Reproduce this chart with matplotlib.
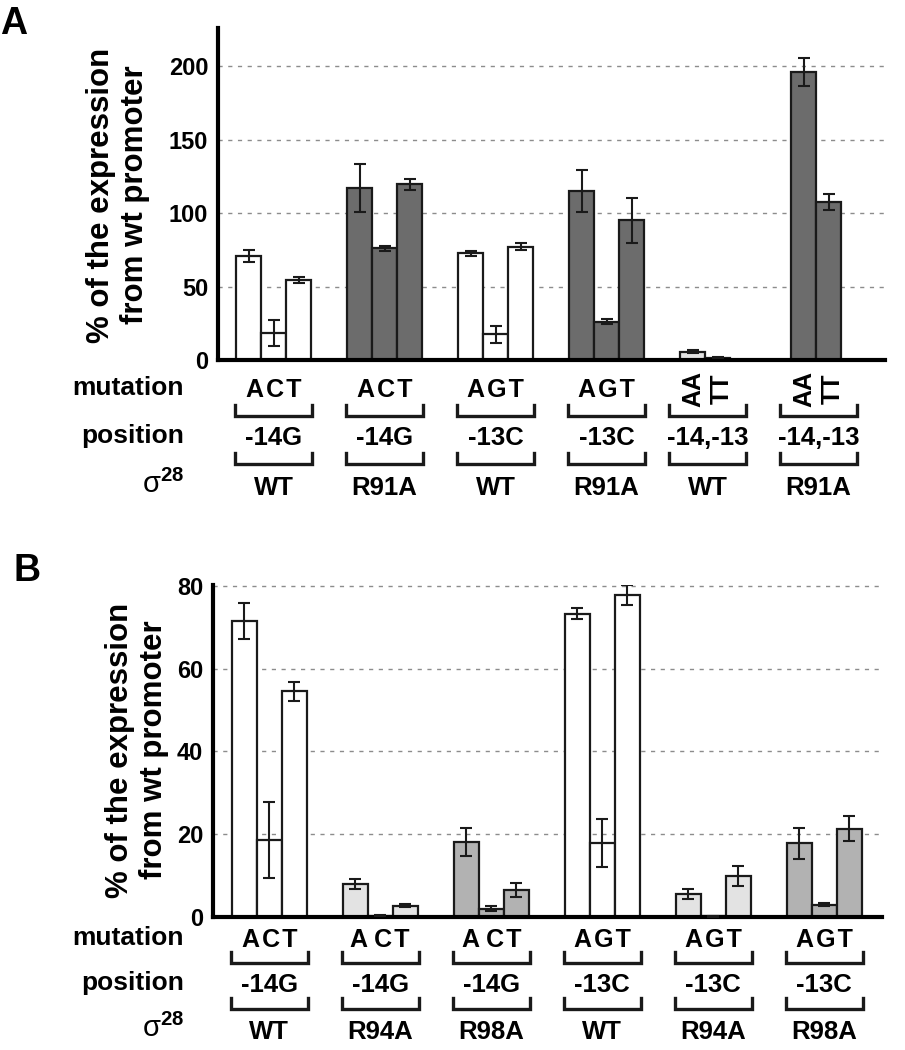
import matplotlib
matplotlib.use('Agg')
import matplotlib.pyplot as plt
import matplotlib.transforms as mtransforms
from matplotlib.lines import Line2D

plt.rcParams['font.family'] = ['Liberation Sans', 'DejaVu Sans']
plt.rcParams['mathtext.fontset'] = 'custom'
plt.rcParams['mathtext.rm'] = 'Liberation Sans'
plt.rcParams['mathtext.bf'] = 'Liberation Sans:bold'

HS = '\u200a'  # hair space, the letters are tracked a bit in the figure

# ---------- data: panel A ----------
a_mutation = [f'A{HS}C{HS}T', f'A{HS}C{HS}T', f'A{HS}G{HS}T', f'A{HS}G{HS}T', 'AA\nTT', 'AA\nTT']
a_position = ['-14G', '-14G', '-13C', '-13C', '-14,-13', '-14,-13']
a_sigma = ['WT', 'R91A', 'WT', 'R91A', 'WT', 'R91A']
a_values = [[71, 18.5, 54.5], [117, 76, 119.5], [72.5, 17.5, 77],
            [115, 26, 95], [5.7, 1.5], [196, 107.5]]
a_errors = [[4.2, 9, 2.3], [16.5, 1.8, 3.5], [1.6, 5.8, 2.4],
            [14, 1.8, 15.5], [1.2, 0.4], [9.8, 5.4]]
a_fill = ['white', 'dark', 'white', 'dark', 'light', 'dark']
a_yticks = [0, 50, 100, 150, 200]

# ---------- data: panel B ----------
b_mutation = [f'A{HS}C{HS}T', 'A C' + HS + 'T', 'A C' + HS + 'T',
              f'A{HS}G{HS}T', f'A{HS}G{HS}T', f'A{HS}G{HS}T']
b_position = ['-14G', '-14G', '-14G', '-13C', '-13C', '-13C']
b_sigma = ['WT', 'R94A', 'R98A', 'WT', 'R94A', 'R98A']
b_values = [[71.5, 18.6, 54.5], [8.0, 0.3, 2.7], [18.1, 2.0, 6.5],
            [73.3, 17.8, 77.8], [5.6, 0.2, 10.0], [17.8, 3.0, 21.3]]
b_errors = [[4.3, 9.2, 2.3], [1.3, 0.1, 0.4], [3.3, 0.6, 1.6],
            [1.3, 5.8, 2.5], [1.25, 0.1, 2.4], [3.7, 0.3, 3.0]]
b_fill = ['white', 'light', 'medium', 'white', 'light', 'medium']
b_yticks = [0, 20, 40, 60, 80]

colors = {'white': '#ffffff', 'light': '#e3e3e3', 'medium': '#b2b2b2', 'dark': '#6c6c6c'}

GROUP_STEP = 4.44  # group spacing in bar widths

W, H = 905, 1050
fig = plt.figure(figsize=(W / 100, H / 100), dpi=100)


def fy(py):
    """pixel row -> figure fraction"""
    return 1 - py / H


def draw_panel(rect, values, errors, fills, yticks, ylim, xlim):
    ax = fig.add_axes(rect)
    for i, (vals, errs, fill) in enumerate(zip(values, errors, fills)):
        xs = [i * GROUP_STEP + j for j in range(len(vals))]
        ax.bar(xs, vals, width=1.0, color=colors[fill], edgecolor='#1a1a1a',
               linewidth=1.6, zorder=2)
        ax.errorbar(xs, vals, yerr=errs, fmt='none', ecolor='#1a1a1a',
                    elinewidth=1.5, capsize=4.5, capthick=1.5, zorder=3)
    ax.set_xlim(*xlim)
    ax.set_ylim(*ylim)
    ax.set_yticks(yticks)
    ax.set_yticklabels([str(t) for t in yticks], fontsize=17, fontweight='bold')
    ax.tick_params(axis='y', length=0, pad=7)
    ax.set_xticks([])
    ax.yaxis.grid(True, linestyle=(0, (3, 4)), color='#8c8c8c', linewidth=1)
    ax.set_axisbelow(True)
    for s in ['top', 'right']:
        ax.spines[s].set_visible(False)
    for s in ['left', 'bottom']:
        ax.spines[s].set_linewidth(3)
        ax.spines[s].set_color('black')
    return ax


def bracket(ax, xc, y_top, y_bot):
    tr = mtransforms.blended_transform_factory(ax.transData, fig.transFigure)
    x0, x1 = xc - 1.55, xc + 1.55
    ax.add_line(Line2D([x0, x0, x1, x1], [fy(y_top), fy(y_bot), fy(y_bot), fy(y_top)],
                       transform=tr, color='#1a1a1a', linewidth=2.4,
                       solid_joinstyle='miter', clip_on=False))


def label_rows(ax, values, mutation, position, sigma, rows):
    tr = mtransforms.blended_transform_factory(ax.transData, fig.transFigure)
    (mut_y, br1, pos_y, br2, sig_y) = rows
    for i, vals in enumerate(values):
        xc = i * GROUP_STEP + (len(vals) - 1) / 2 + (0.1 if len(vals) == 2 else 0)
        if '\n' in mutation[i]:
            ax.text(xc, fy(mut_y - 8), mutation[i], transform=tr, rotation=90,
                    ha='center', va='center', fontsize=18, fontweight='bold',
                    linespacing=1.25)
        else:
            ax.text(xc, fy(mut_y), mutation[i], transform=tr, ha='center',
                    va='baseline', fontsize=18, fontweight='bold')
        bracket(ax, xc, *br1)
        ax.text(xc, fy(pos_y), position[i], transform=tr, ha='center',
                va='baseline', fontsize=18.5, fontweight='bold')
        bracket(ax, xc, *br2)
        ax.text(xc, fy(sig_y), sigma[i], transform=tr, ha='center',
                va='baseline', fontsize=18.5, fontweight='bold')
    # row titles
    fig.text(184 / W, fy(mut_y - 2), 'mutation', ha='right', va='baseline',
             fontsize=19, fontweight='bold')
    fig.text(184 / W, fy(pos_y - 2), 'position', ha='right', va='baseline',
             fontsize=19, fontweight='bold')
    fig.text(184 / W, fy(sig_y - 2), r'σ$^{\mathbf{28}}$', ha='right', va='baseline',
             fontsize=21)


# ---------- panel A ----------
ax_a = draw_panel([218 / W, fy(360), (885 - 218) / W, (360 - 28) / H],
                  a_values, a_errors, a_fill, a_yticks, (0, 226), (-1.22, 25.46))
label_rows(ax_a, a_values, a_mutation, a_position, a_sigma,
           (397, (405, 416), 445, (453, 464), 495))
fig.text(118 / W, fy(195), '% of the expression\nfrom wt promoter', rotation=90,
         ha='center', va='center', fontsize=22.5, fontweight='bold',
         multialignment='center', linespacing=1.15)
fig.text(0.0, fy(34), 'A', fontsize=27, fontweight='bold', va='baseline')

# ---------- panel B ----------
ax_b = draw_panel([213 / W, fy(917), (882 - 213) / W, (917 - 585) / H],
                  b_values, b_errors, b_fill, b_yticks, (0, 80.2), (-1.25, 25.51))
label_rows(ax_b, b_values, b_mutation, b_position, b_sigma,
           (947, (952, 963), 992, (998, 1009), 1039))
fig.text(137 / W, fy(750), '% of the expression\nfrom wt promoter', rotation=90,
         ha='center', va='center', fontsize=22.5, fontweight='bold',
         multialignment='center', linespacing=1.15)
fig.text(13 / W, fy(581), 'B', fontsize=27, fontweight='bold', va='baseline')

fig.savefig('out.png', dpi=100)
